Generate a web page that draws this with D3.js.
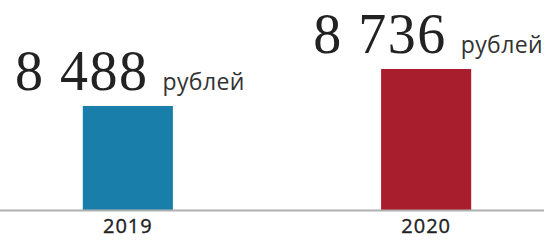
<!DOCTYPE html>
<html>
<head>
    <meta charset="utf-8">
    <style>
        body { margin: 0; background: #fff; }
        svg { display: block; }
    </style>
</head>
<body>
    <svg></svg>
    <script src="https://cdnjs.cloudflare.com/ajax/libs/d3/7.8.5/d3.min.js"></script>
    <script>
        // chart data
        let years = ["2019", "2020"];
        let values = [8488, 8736];
        let valueLabels = ["8 488", "8 736"];
        let unit = "рублей";
        let colors = ["#1a7eab", "#a81e2c"];

        let width = 544, height = 243;
        let baseY = 210;

        let svg = d3.select("svg")
            .attr("width", width).attr("height", height)
            .attr("viewBox", "0 0 " + width + " " + height);

        let x = d3.scaleBand()
            .domain(years)
            .range([-21, 575])
            .paddingInner(0.698)
            .paddingOuter(0.348);

        // the bars do not start at zero in the original
        let y = d3.scaleLinear()
            .domain([7790, 8736])
            .range([baseY, 69]);

        let data = years.map((yr, i) => ({ year: yr, value: values[i], label: valueLabels[i], color: colors[i] }));

        svg.append("g")
            .selectAll("rect")
            .data(data)
            .enter()
            .append("rect")
            .attr("x", d => x(d.year))
            .attr("width", x.bandwidth())
            .attr("y", d => y(d.value))
            .attr("height", d => baseY - y(d.value))
            .attr("fill", d => d.color);

        // baseline
        svg.append("line")
            .attr("x1", 0).attr("x2", width)
            .attr("y1", baseY + 0.5).attr("y2", baseY + 0.5)
            .attr("stroke", "#b0b0b0")
            .attr("stroke-width", 2);

        // year labels
        svg.append("g")
            .selectAll("text")
            .data(data)
            .enter()
            .append("text")
            .attr("x", d => x(d.year) + x.bandwidth() / 2)
            .attr("y", 233)
            .attr("text-anchor", "middle")
            .attr("font-family", "Open Sans")
            .attr("font-size", 20)
            .attr("letter-spacing", 1)
            .attr("fill", "#222")
            .attr("stroke", "#222")
            .attr("stroke-width", 0.35)
            .text(d => d.year);

        // value labels
        let lbl = svg.append("g")
            .selectAll("text")
            .data(data)
            .enter()
            .append("text")
            .attr("x", d => x(d.year) + x.bandwidth() / 2 + 2)
            .attr("y", d => y(d.value) - 16)
            .attr("text-anchor", "middle")
            .attr("fill", "#222");

        lbl.append("tspan")
            .attr("font-family", "Liberation Serif")
            .attr("font-size", 56)
            .attr("letter-spacing", 1.5)
            .text(d => d.label);

        lbl.append("tspan")
            .attr("dx", 14)
            .attr("font-family", "Open Sans")
            .attr("font-size", 23)
            .attr("letter-spacing", 0.4)
            .attr("fill", "#333")
            .text(unit);
    </script>
</body>
</html>
